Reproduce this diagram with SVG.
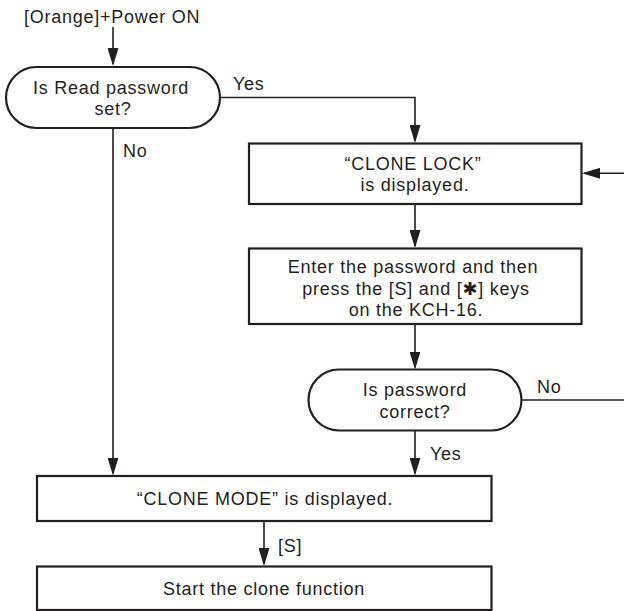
<svg xmlns="http://www.w3.org/2000/svg" width="624" height="611" viewBox="0 0 624 611">
  <defs>
    <style>
      .node { fill: #ffffff; stroke: #231f20; stroke-width: 2.2; }
      .conn { fill: none; stroke: #231f20; stroke-width: 1.6; }
      text { font-family: "Liberation Sans", Arial, sans-serif; font-size: 18px; letter-spacing: 0.75px; fill: #231f20; }
      .c { text-anchor: middle; }
    </style>
    <marker id="arrow" markerUnits="userSpaceOnUse" markerWidth="19" markerHeight="11" viewBox="0 0 19 11" refX="16" refY="5.5" orient="auto">
      <path d="M0,0 L18,5.5 L0,11 Z" fill="#231f20"/>
    </marker>
  </defs>

  <rect width="624" height="611" fill="#ffffff"/>

  <!-- connectors -->
  <g id="connectors">
    <path class="conn" d="M113,27 V64" marker-end="url(#arrow)"/>
    <path class="conn" d="M220,97.5 H415 V141" marker-end="url(#arrow)"/>
    <path class="conn" d="M113,128 V473.5" marker-end="url(#arrow)"/>
    <path class="conn" d="M415,204 V246" marker-end="url(#arrow)"/>
    <path class="conn" d="M415,324 V367.5" marker-end="url(#arrow)"/>
    <path class="conn" d="M415,430.5 V473.5" marker-end="url(#arrow)"/>
    <path class="conn" d="M521.5,400 H624"/>
    <path class="conn" d="M624,173.3 H584" marker-end="url(#arrow)"/>
    <path class="conn" d="M264,521 V564" marker-end="url(#arrow)"/>
    <text x="233" y="90">Yes</text>
    <text x="123" y="157">No</text>
    <text x="537" y="393">No</text>
    <text x="430" y="460">Yes</text>
    <text x="278" y="552">[S]</text>
  </g>

  <g id="start">
    <text x="24" y="23">[Orange]+Power ON</text>
  </g>

  <g id="read-password-set">
    <rect class="node" x="6" y="67" width="214" height="61" rx="30.5"/>
    <text class="c" x="111" y="94">Is Read password</text>
    <text class="c" x="113" y="115">set?</text>
  </g>

  <g id="clone-lock">
    <rect class="node" x="249" y="143.5" width="332.5" height="60.5"/>
    <text class="c" x="413" y="170">“CLONE LOCK”</text>
    <text class="c" x="415" y="191">is displayed.</text>
  </g>

  <g id="enter-password">
    <rect class="node" x="249" y="248.5" width="332.5" height="75.5"/>
    <text class="c" x="413" y="273">Enter the password and then</text>
    <text class="c" x="416" y="294.5">press the [S] and [<tspan font-family="'DejaVu Sans', sans-serif">✱</tspan>] keys</text>
    <text class="c" x="416" y="316">on the KCH-16.</text>
  </g>

  <g id="password-correct">
    <rect class="node" x="308.5" y="369.5" width="213" height="61" rx="30.5"/>
    <text class="c" x="415" y="396">Is password</text>
    <text class="c" x="415" y="418">correct?</text>
  </g>

  <g id="clone-mode">
    <rect class="node" x="37" y="476" width="454.5" height="45"/>
    <text class="c" x="265" y="505">“CLONE MODE” is displayed.</text>
  </g>

  <g id="clone-function">
    <rect class="node" x="37" y="566.5" width="454.5" height="43.5"/>
    <text class="c" x="264" y="595">Start the clone function</text>
  </g>
</svg>
